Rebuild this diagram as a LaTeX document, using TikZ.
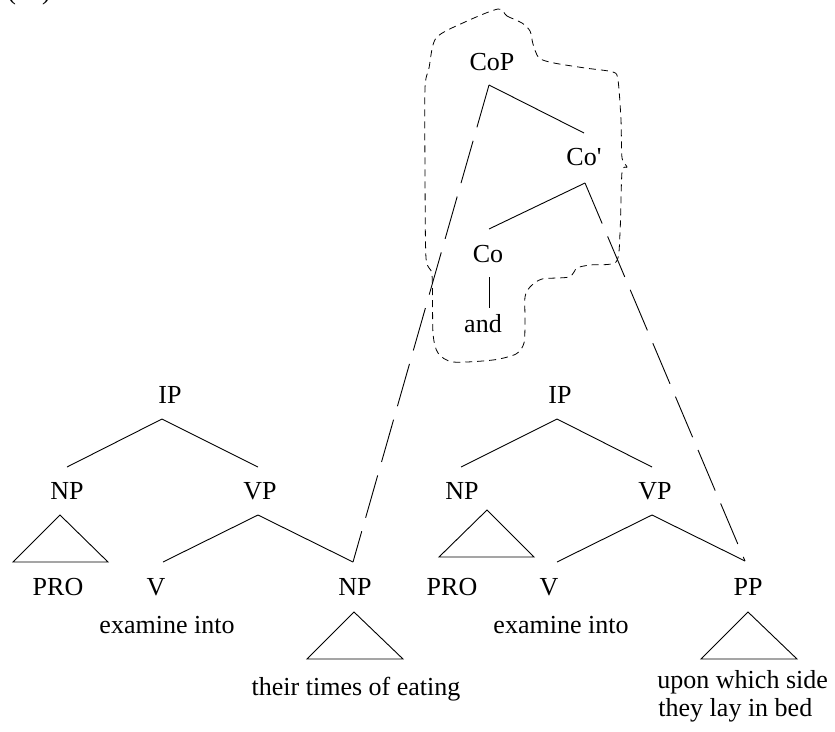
\documentclass[tikz,border=0pt]{standalone}
\usepackage{fontspec}
\setmainfont{Liberation Serif}
\begin{document}
\begin{tikzpicture}[x=1pt,y=-1pt,line width=0.9pt,
  lbl/.style={anchor=base,inner sep=0pt,font=\fontsize{26}{28}\selectfont},
  lblw/.style={lbl,anchor=base west},
  longdash/.style={dash pattern=on 44pt off 14pt},
  blobdash/.style={dash pattern=on 7pt off 5pt,line width=0.8pt}]
\useasboundingbox (0,0) rectangle (835,731);
\begin{scope}
\clip (0,0) rectangle (835,731);
\node[lblw] (num) at (7,-1) {(12)};
\end{scope}

% coordination phrase
\node[lbl] (cop) at (492,70) {CoP};
\node[lbl] (cobar) at (584,165) {Co\textquotesingle};
\node[lbl] (co) at (488,262) {Co};
\node[lbl] (and) at (483,332) {and};
\coordinate (copA) at (489,85);
\coordinate (cobarT) at (584,133);
\coordinate (cobarA) at (585,183);
\coordinate (coT) at (489,229);
\coordinate (coB) at (489,277);
\coordinate (andT) at (489,308);

% left clause
\node[lbl] (ipL) at (170,403) {IP};
\node[lbl] (npL) at (67,499) {NP};
\node[lbl] (vpL) at (260,499) {VP};
\node[lbl] (proL) at (58,595) {PRO};
\node[lbl] (vL) at (156,595) {V};
\node[lbl] (npO) at (355,595) {NP};
\node[lbl] (exL) at (167,633) {examine into};
\node[lbl] (eat) at (356,695) {their times of eating};
\coordinate (ipLA) at (162,419);
\coordinate (npLT) at (67,467);
\coordinate (vpLT) at (258,467);
\coordinate (vpLA) at (258,515);
\coordinate (vLT) at (163,562);
\coordinate (npOT) at (353,562);

% right clause
\node[lbl] (ipR) at (560,403) {IP};
\node[lbl] (npR) at (462,499) {NP};
\node[lbl] (vpR) at (655,499) {VP};
\node[lbl] (proR) at (452,595) {PRO};
\node[lbl] (vR) at (549,595) {V};
\node[lbl] (pp) at (748,595) {PP};
\node[lbl] (exR) at (561,633) {examine into};
\node[lblw] (side) at (657,688) {upon which side};
\node[lblw] (bed) at (658,716) {they lay in bed};
\coordinate (ipRA) at (557,419);
\coordinate (npRT) at (461,467);
\coordinate (vpRT) at (652,467);
\coordinate (vpRA) at (652,515);
\coordinate (vRT) at (557,562);
\coordinate (ppT) at (745,561);

% branches
\draw (copA) -- (cobarT);
\draw (cobarA) -- (coT);
\draw (coB) -- (andT);
\draw (ipLA) -- (npLT);
\draw (ipLA) -- (vpLT);
\draw (vpLA) -- (vLT);
\draw (vpLA) -- (npOT);
\draw (ipRA) -- (npRT);
\draw (ipRA) -- (vpRT);
\draw (vpRA) -- (vRT);
\draw (vpRA) -- (ppT);

% triangles
\draw (60,515) -- (13,562) -- (108,562) -- cycle;
\draw (487,510) -- (439,557) -- (534,557) -- cycle;
\draw (354,612) -- (307,659) -- (403,659) -- cycle;
\draw (748,612) -- (701,659) -- (797,659) -- cycle;

% long dashed links
\draw[longdash] (copA) -- (npOT);
\draw[longdash] (cobarA) -- (ppT);

% dashed outline
\draw[blobdash] plot[smooth cycle,tension=0.45] coordinates {
 (498,9) (507,16) (522,23) (530,31) (533,44) (539,58) (554,63)
 (585,68) (613,72) (618,80) (621,120) (622,158) (627,167) (622,172)
 (620,233) (616,262) (590,265) (577,268) (569,277) (542,279)
 (530,287) (525,297) (525,320) (524,343) (516,354) (493,360)
 (453,362) (438,353) (433,333) (432,275) (426,258) (425,170)
 (425,88) (429,68) (436,38) (465,22)};
\end{tikzpicture}
\end{document}
